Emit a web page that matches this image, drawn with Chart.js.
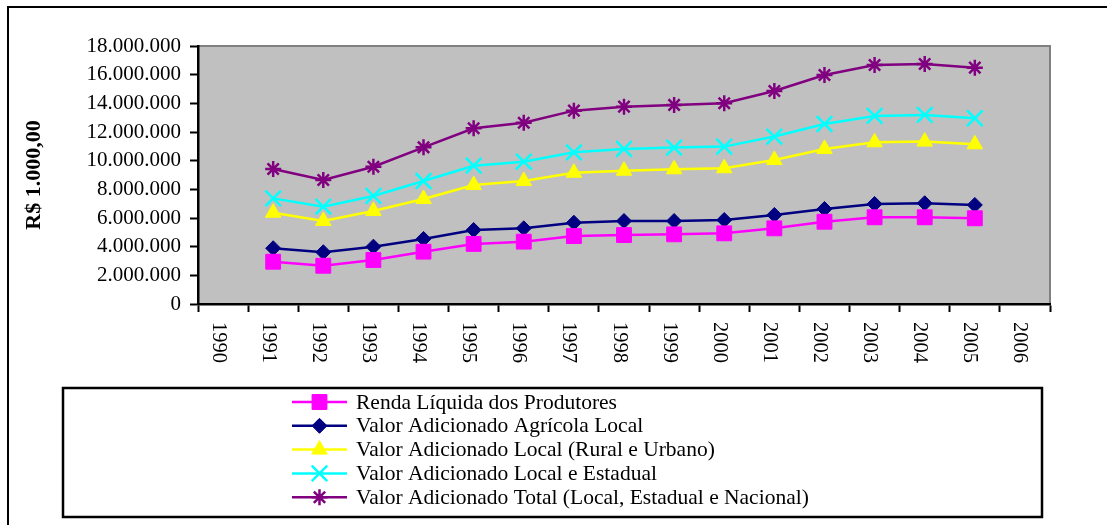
<!DOCTYPE html>
<html><head><meta charset="utf-8">
<script src="https://cdn.jsdelivr.net/npm/chart.js@4.4.0/dist/chart.umd.min.js"></script>
<style>html,body{margin:0;padding:0;background:#fff;}canvas{display:block}</style>
</head><body>
<canvas id="c" width="1107" height="525"></canvas>
<script>
const categories = ['1990','1991','1992','1993','1994','1995','1996','1997','1998','1999','2000','2001','2002','2003','2004','2005','2006'];
const seriesNames = ['Renda Líquida dos Produtores','Valor Adicionado Agrícola Local','Valor Adicionado Local (Rural e Urbano)','Valor Adicionado Local e Estadual','Valor Adicionado Total (Local, Estadual e Nacional)'];
const renda    = [null,2950000,2670000,3070000,3650000,4190000,4350000,4740000,4810000,4860000,4930000,5280000,5740000,6050000,6050000,5980000,null];
const agricola = [null,3890000,3610000,4000000,4540000,5160000,5280000,5670000,5790000,5790000,5860000,6210000,6630000,6980000,7030000,6910000,null];
const local    = [null,6370000,5790000,6490000,7330000,8300000,8580000,9160000,9300000,9400000,9470000,10050000,10820000,11280000,11330000,11140000,null];
const estadual = [null,7370000,6790000,7540000,8580000,9650000,9930000,10580000,10820000,10910000,10980000,11680000,12560000,13120000,13190000,12960000,null];
const total    = [null,9420000,8650000,9580000,10930000,12260000,12650000,13490000,13770000,13890000,14000000,14860000,15980000,16680000,16750000,16490000,null];
const yTitle = 'R$ 1.000,00';

const FONT = 'Liberation Serif, Times New Roman, serif';
function fmt(v){ return String(Math.round(v)).replace(/\B(?=(\d{3})+(?!\d))/g,'.'); }

const styles = [
  {color:'#FF00FF', pointStyle:'rect', radius:10.5, bw:1},
  {color:'#000080', pointStyle:'rectRot', radius:7.5, bw:1},
  {color:'#FFFF00', pointStyle:'triangle', radius:9, bw:1},
  {color:'#00FFFF', pointStyle:'crossRot', radius:11, bw:2.5},
  {color:'#800080', pointStyle:'star', radius:8, bw:2.5}
];
const seriesData = [renda, agricola, local, estadual, total];

const datasets = seriesData.map((d,i)=>({
  label: seriesNames[i], data: d,
  borderColor: styles[i].color, backgroundColor: styles[i].color,
  pointBackgroundColor: styles[i].color, pointBorderColor: styles[i].color,
  pointStyle: styles[i].pointStyle, pointRadius: styles[i].radius, pointHoverRadius: styles[i].radius,
  pointBorderWidth: styles[i].bw, borderWidth: 2.5, tension: 0, fill: false, spanGaps: false
}));

const decor = {
  id:'decor',
  beforeDraw(chart){
    const {ctx, chartArea:a} = chart;
    ctx.save();
    ctx.fillStyle = '#fff'; ctx.fillRect(0,0,chart.width,chart.height);
    ctx.fillStyle = '#000';
    ctx.fillRect(7,6,1100,2);
    ctx.fillRect(7,6,2,519);
    ctx.fillStyle = '#C0C0C0';
    ctx.fillRect(a.left,a.top,a.right-a.left,a.bottom-a.top);
    ctx.strokeStyle = '#808080'; ctx.lineWidth = 2;
    ctx.beginPath(); ctx.moveTo(a.left,a.top); ctx.lineTo(a.right,a.top); ctx.lineTo(a.right,a.bottom); ctx.stroke();
    ctx.restore();
  },
  afterDraw(chart){
    const {ctx} = chart;
    const xs = chart.scales.x;
    ctx.save();
    ctx.fillStyle = '#000';
    ctx.font = '20.5px ' + FONT;
    ctx.textAlign = 'left'; ctx.textBaseline = 'alphabetic';
    categories.forEach((c,i)=>{
      const px = xs.getPixelForValue(i);
      ctx.save();
      ctx.translate(px - 10.5, 322);
      ctx.rotate(Math.PI/2);
      ctx.fillText(c, 0, 0);
      ctx.restore();
    });
    ctx.strokeStyle = '#000'; ctx.lineWidth = 2.5;
    ctx.strokeRect(63, 388, 979, 129);
    const rowY0 = 402, rowStep = 23.8;
    datasets.forEach((ds,i)=>{
      const y = rowY0 + i*rowStep;
      ctx.strokeStyle = styles[i].color; ctx.lineWidth = 2.5;
      ctx.beginPath(); ctx.moveTo(292,y); ctx.lineTo(347,y); ctx.stroke();
      ctx.fillStyle = styles[i].color; ctx.strokeStyle = styles[i].color; ctx.lineWidth = styles[i].bw;
      Chart.helpers.drawPoint(ctx, {pointStyle: styles[i].pointStyle, radius: styles[i].radius, rotation:0, borderWidth: styles[i].bw}, 319.5, y);
      ctx.fillStyle = '#000';
      ctx.font = '21.5px ' + FONT;
      ctx.textBaseline = 'middle';
      ctx.fillText(ds.label, 356, y + 1);
    });
    ctx.restore();
  }
};

new Chart(document.getElementById('c'), {
  type: 'line',
  data: { labels: categories, datasets },
  options: {
    responsive: false, animation: false, devicePixelRatio: 1,
    layout: { padding: { left: 0, top: 46, right: 57, bottom: 141 } },
    plugins: { legend: { display: false }, tooltip: { enabled: false } },
    scales: {
      x: {
        type: 'category', offset: true,
        grid: { offset: true, drawOnChartArea: false, drawTicks: true, tickLength: 8, tickWidth: 2, tickColor: '#000' },
        border: { display: true, color: '#000', width: 2.5 },
        ticks: { display: false },
        afterFit(s){ s.height = 80; s.paddingLeft = 0; s.paddingRight = 0; }
      },
      y: {
        min: 0, max: 18000000,
        ticks: { stepSize: 2000000, callback: v => fmt(v), font: { family: FONT, size: 21 }, color: '#000', padding: 9 },
        grid: { drawOnChartArea: false, drawTicks: true, tickLength: 8, tickWidth: 2, tickColor: '#000' },
        border: { display: true, color: '#000', width: 2.5 },
        title: { display: true, text: yTitle, color: '#000', font: { family: FONT, size: 22, weight: 'bold' }, padding: { top: 21, bottom: 0 } },
        afterFit(s){ s.width = 198; s.paddingTop = 0; s.paddingBottom = 0; }
      }
    }
  },
  plugins: [decor]
});
</script>
</body></html>
